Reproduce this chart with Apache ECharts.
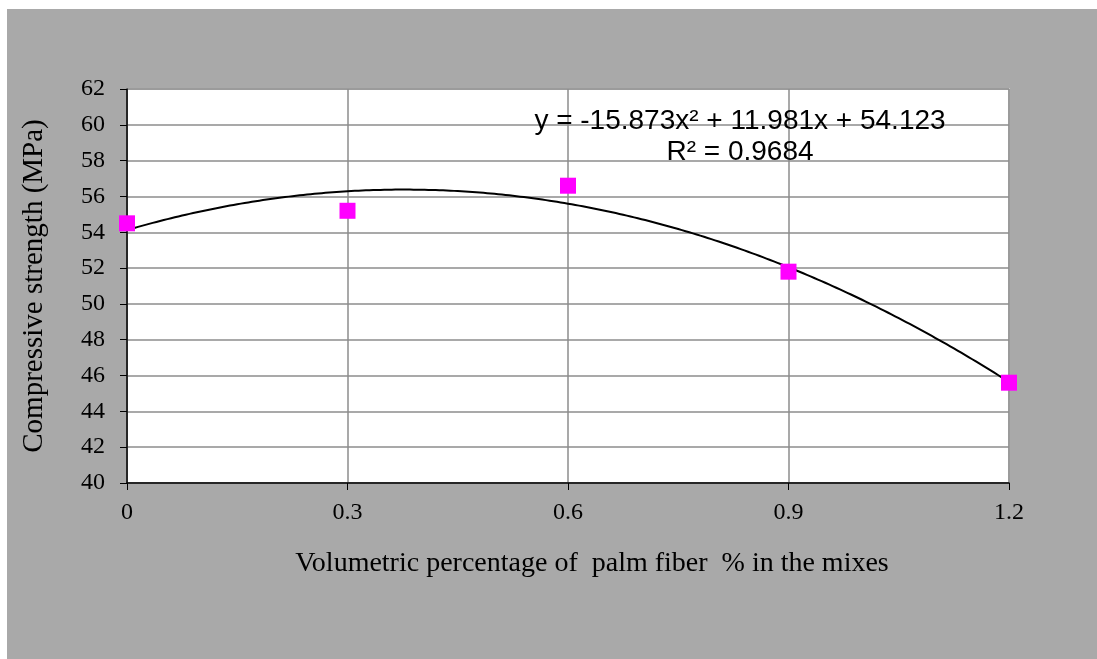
<!DOCTYPE html>
<html>
<head>
<meta charset="utf-8">
<script src="https://cdn.jsdelivr.net/npm/echarts@6/dist/echarts.min.js"></script>
<style>
  html, body { margin: 0; padding: 0; background: #fff; }
  #chart { width: 1097px; height: 659px; }
</style>
</head>
<body>
<div id="chart"></div>
<script>
// measured points
var fiberPct = [0, 0.3, 0.6, 0.9, 1.2]
var strength = [54.5, 55.2, 56.6, 51.8, 45.6]
// polynomial trend printed on the chart: c0 + c1*x + c2*x^2
var trendCoef = [54.123, 11.981, -15.873]
var rSquared = '0.9684'
var xTicks = ['0', '0.3', '0.6', '0.9', '1.2']

var serif = '"Liberation Serif", "Times New Roman", serif'
var sans = '"Liberation Sans", Arial, sans-serif'

function trendAt(x) {
  return trendCoef[0] + trendCoef[1] * x + trendCoef[2] * x * x
}

var trendPts = []
for (var i = 0; i <= 120; i++) {
  var x = i / 100
  trendPts.push([x, trendAt(x)])
}

var chart = echarts.init(document.getElementById('chart'))
chart.setOption({
  animation: false,
  backgroundColor: 'transparent',
  graphic: [
    {
      type: 'rect', z: -10, silent: true,
      shape: { x: 7, y: 9, width: 1090, height: 650 },
      style: { fill: '#a9a9a9' }
    },
    {
      type: 'text', z: 10,
      style: {
        x: 0, y: 0, text: 'Compressive strength (MPa)',
        font: '29px ' + serif, fill: '#000',
        align: 'center', verticalAlign: 'middle'
      },
      rotation: Math.PI / 2, x: 34, y: 286
    },
    {
      type: 'text', z: 10,
      style: {
        x: 592, y: 564, text: 'Volumetric percentage of  palm fiber  % in the mixes',
        font: '28px ' + serif, fill: '#000',
        align: 'center', verticalAlign: 'middle'
      }
    },
    {
      type: 'text', z: 10,
      style: {
        x: 740, y: 121,
        text: 'y = ' + trendCoef[2] + 'x\u00b2 + ' + trendCoef[1] + 'x + ' + trendCoef[0],
        font: '28px ' + sans, fill: '#000',
        align: 'center', verticalAlign: 'middle'
      }
    },
    {
      type: 'text', z: 10,
      style: {
        x: 740, y: 152, text: 'R\u00b2 = ' + rSquared,
        font: '28px ' + sans, fill: '#000',
        align: 'center', verticalAlign: 'middle'
      }
    }
  ],
  grid: {
    left: 127,
    top: 89,
    width: 882,
    height: 394,
    show: true,
    backgroundColor: '#fff',
    borderColor: '#c8c8c8',
    borderWidth: 2
  },
  xAxis: {
    type: 'value',
    min: 0,
    max: 1.2,
    interval: 0.3,
    axisLine: { show: true, onZero: false, lineStyle: { color: '#000', width: 1.5 } },
    axisTick: { show: true, length: 7, lineStyle: { color: '#000' } },
    axisLabel: {
      color: '#000', fontFamily: serif, fontSize: 24, margin: 18,
      formatter: function (v) {
        var idx = Math.round(v / 0.3)
        return xTicks[idx] !== undefined ? xTicks[idx] : ''
      }
    },
    splitLine: { show: true, lineStyle: { color: '#8c8c8c', width: 1.5 } }
  },
  yAxis: {
    type: 'value',
    min: 40,
    max: 62,
    interval: 2,
    axisLine: { show: true, lineStyle: { color: '#000', width: 1.5 } },
    axisTick: { show: true, length: 7, lineStyle: { color: '#000' } },
    axisLabel: { color: '#000', fontFamily: serif, fontSize: 24, margin: 22 },
    splitLine: { show: true, lineStyle: { color: '#8c8c8c', width: 1.5 } }
  },
  series: [
    {
      name: 'trend',
      type: 'line',
      data: trendPts,
      showSymbol: false,
      smooth: true,
      lineStyle: { color: '#000', width: 2 },
      z: 3
    },
    {
      name: 'strength',
      type: 'scatter',
      data: fiberPct.map(function (x, k) { return [x, strength[k]] }),
      symbol: 'rect',
      symbolSize: 16,
      itemStyle: { color: '#ff00ff', opacity: 1 },
      z: 4
    }
  ]
})
</script>
</body>
</html>
